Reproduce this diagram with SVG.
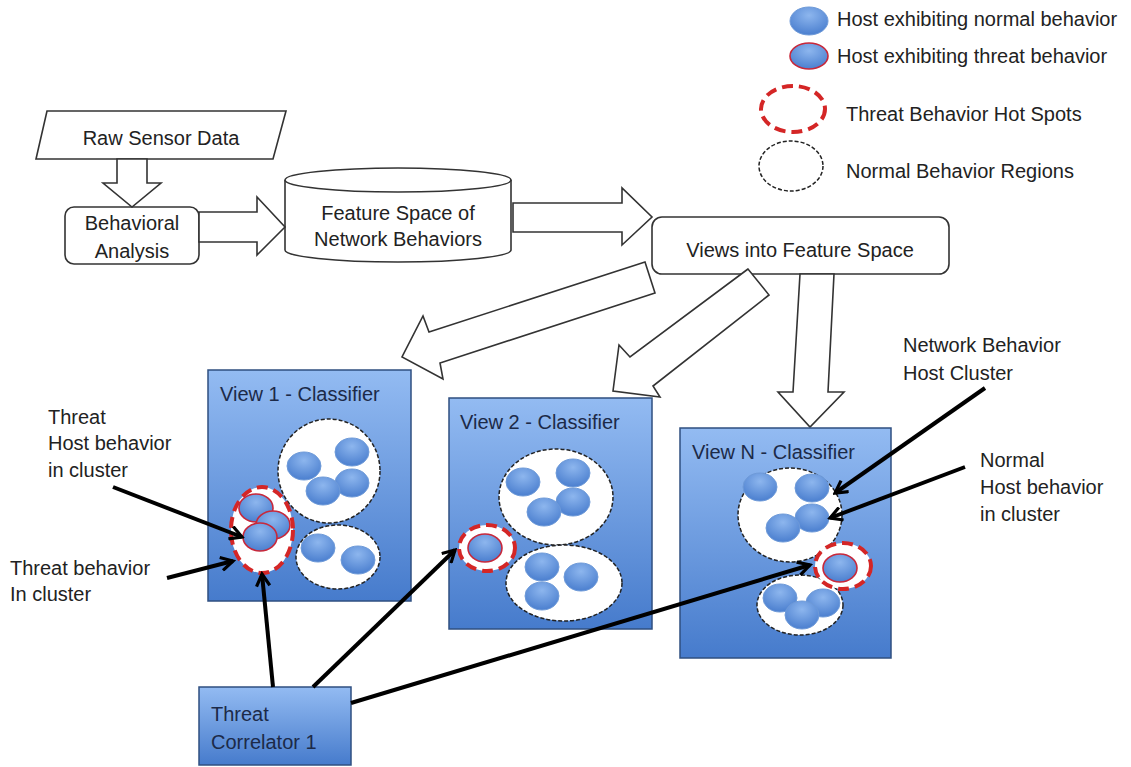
<svg xmlns="http://www.w3.org/2000/svg" width="1131" height="767" viewBox="0 0 1131 767">
  <style>
    text { font-family: "Liberation Sans", Arial, sans-serif; font-size: 20px; fill: #222; }
    .title { fill: #1c2a48; }
    .shape { fill: #fff; stroke: #333; stroke-width: 1.6; }
    .panel { fill: url(#panelGrad); stroke: #2f4f80; stroke-width: 1.5; }
    .region { fill: #fff; stroke: #222; stroke-width: 1.5; stroke-dasharray: 4 2; }
    .hot { fill: #fff; stroke: #d42626; stroke-width: 4; stroke-dasharray: 11 6; }
    .host { fill: url(#hostGrad); stroke: #6e9ad8; stroke-width: 1; }
    .threat { fill: url(#hostGrad); stroke: #c8283a; stroke-width: 1.6; }
    .link { stroke: #000; stroke-width: 4; fill: none; marker-end: url(#chev); }
  </style>
  <defs>
    <linearGradient id="panelGrad" x1="0" y1="0" x2="0" y2="1">
      <stop offset="0" stop-color="#93bbf2"/>
      <stop offset="1" stop-color="#467bcc"/>
    </linearGradient>
    <radialGradient id="hostGrad" cx="0.5" cy="0.3" r="0.7">
      <stop offset="0" stop-color="#8db6ee"/>
      <stop offset="1" stop-color="#4b7fcf"/>
    </radialGradient>
    <marker id="chev" viewBox="0 0 12 12" refX="10" refY="6" markerWidth="16" markerHeight="16" markerUnits="userSpaceOnUse" orient="auto">
      <path d="M1,1 L10,6 L1,11" fill="none" stroke="#000" stroke-width="2.4"/>
    </marker>
  </defs>
  <rect width="1131" height="767" fill="#fff"/>

  <!-- legend -->
  <g id="legend">
    <ellipse class="host" cx="809" cy="21" rx="19" ry="14"/>
    <text x="837" y="26">Host exhibiting normal behavior</text>
    <ellipse class="threat" cx="809" cy="56" rx="19" ry="13"/>
    <text x="837" y="63">Host exhibiting threat behavior</text>
    <ellipse class="hot" cx="793" cy="109" rx="32" ry="23"/>
    <text x="846" y="121">Threat Behavior Hot Spots</text>
    <ellipse class="region" cx="791" cy="166" rx="32" ry="25"/>
    <text x="846" y="178">Normal Behavior Regions</text>
  </g>

  <!-- flow shapes -->
  <g id="raw-sensor-data">
    <polygon class="shape" points="47,111 286,111 273,159 36,159"/>
    <text x="161" y="145" text-anchor="middle">Raw Sensor Data</text>
  </g>
  <g id="behavioral-analysis">
    <rect class="shape" x="65" y="207" width="134" height="57" rx="9"/>
    <text x="132" y="230" text-anchor="middle">Behavioral</text>
    <text x="132" y="258" text-anchor="middle">Analysis</text>
  </g>
  <g id="feature-space">
    <path class="shape" d="M285,180 L285,250 A113,12 0 0 0 511,250 L511,180"/>
    <ellipse class="shape" cx="398" cy="180" rx="113" ry="12"/>
    <text x="398" y="220" text-anchor="middle">Feature Space of</text>
    <text x="398" y="246" text-anchor="middle">Network Behaviors</text>
  </g>
  <g id="views">
    <rect class="shape" x="652" y="217" width="297" height="57" rx="10"/>
    <text x="800" y="257" text-anchor="middle">Views into Feature Space</text>
  </g>

  <!-- block arrows between stages -->
  <g id="block-arrows">
    <polygon class="shape" points="117,159 147,159 147,183 161,183 132,207 103,183 117,183"/>
    <polygon class="shape" points="199,212 257,212 257,197 285,227 257,255 257,242 199,242"/>
    <polygon class="shape" points="513,203 622,203 622,188 652,217 622,245 622,232 513,232"/>
    <polygon class="shape" points="645,262 429,332 423,316 402,357 443,379 440,363 655,293"/>
    <polygon class="shape" points="748,269 630,357 619,345 613,391 660,397 653,386 769,295"/>
    <polygon class="shape" points="800,274 793,392 778,392 810,427 844,392 828,392 834,274"/>
  </g>

  <!-- classifier views -->
  <g id="view-1">
    <rect class="panel" x="208" y="370" width="203" height="231"/>
    <text class="title" x="220" y="401">View 1 - Classifier</text>
    <ellipse class="region" cx="329" cy="471" rx="51" ry="52"/>
    <ellipse class="host" cx="304" cy="466" rx="17" ry="14"/>
    <ellipse class="host" cx="352" cy="452" rx="17" ry="14"/>
    <ellipse class="host" cx="352" cy="483" rx="17" ry="14"/>
    <ellipse class="host" cx="323" cy="491" rx="17" ry="14"/>
    <ellipse class="region" cx="338" cy="557" rx="42" ry="32"/>
    <ellipse class="host" cx="318" cy="548" rx="17" ry="14"/>
    <ellipse class="host" cx="358" cy="560" rx="17" ry="14"/>
    <ellipse class="hot" cx="262" cy="530" rx="31" ry="43"/>
    <ellipse class="threat" cx="256" cy="508" rx="17" ry="14"/>
    <ellipse class="threat" cx="273" cy="525" rx="17" ry="14"/>
    <ellipse class="threat" cx="260" cy="537" rx="17" ry="14"/>
  </g>
  <g id="view-2">
    <rect class="panel" x="449" y="398" width="203" height="231"/>
    <text class="title" x="460" y="429">View 2 - Classifier</text>
    <ellipse class="region" cx="556" cy="497" rx="57" ry="48"/>
    <ellipse class="host" cx="523" cy="482" rx="17" ry="14"/>
    <ellipse class="host" cx="573" cy="473" rx="17" ry="14"/>
    <ellipse class="host" cx="573" cy="502" rx="17" ry="14"/>
    <ellipse class="host" cx="544" cy="512" rx="17" ry="14"/>
    <ellipse class="region" cx="564" cy="583" rx="58" ry="38"/>
    <ellipse class="host" cx="542" cy="567" rx="17" ry="14"/>
    <ellipse class="host" cx="581" cy="577" rx="17" ry="14"/>
    <ellipse class="host" cx="542" cy="596" rx="17" ry="14"/>
    <ellipse class="hot" cx="487" cy="548" rx="28" ry="23"/>
    <ellipse class="threat" cx="485" cy="548" rx="17" ry="14"/>
  </g>
  <g id="view-n">
    <rect class="panel" x="680" y="428" width="211" height="230"/>
    <text class="title" x="692" y="459">View N - Classifier</text>
    <ellipse class="region" cx="790" cy="515" rx="52" ry="47"/>
    <ellipse class="host" cx="760" cy="487" rx="17" ry="14"/>
    <ellipse class="host" cx="812" cy="488" rx="17" ry="14"/>
    <ellipse class="host" cx="812" cy="518" rx="17" ry="14"/>
    <ellipse class="host" cx="783" cy="528" rx="17" ry="14"/>
    <ellipse class="region" cx="800" cy="605" rx="43" ry="30"/>
    <ellipse class="host" cx="780" cy="598" rx="17" ry="14"/>
    <ellipse class="host" cx="823" cy="603" rx="17" ry="14"/>
    <ellipse class="host" cx="802" cy="615" rx="17" ry="14"/>
    <ellipse class="hot" cx="843" cy="566" rx="28" ry="23"/>
    <ellipse class="threat" cx="840" cy="568" rx="17" ry="14"/>
  </g>

  <g id="threat-correlator">
    <rect class="panel" x="199" y="687" width="152" height="78"/>
    <text class="title" x="211" y="721">Threat</text>
    <text class="title" x="211" y="749">Correlator 1</text>
  </g>

  <!-- annotation labels -->
  <g id="labels">
    <text x="48" y="424">Threat</text>
    <text x="48" y="450">Host behavior</text>
    <text x="48" y="477">in cluster</text>
    <text x="10" y="575">Threat behavior</text>
    <text x="10" y="601">In cluster</text>
    <text x="903" y="352">Network Behavior</text>
    <text x="903" y="380">Host Cluster</text>
    <text x="980" y="467">Normal</text>
    <text x="980" y="494">Host behavior</text>
    <text x="980" y="521">in cluster</text>
  </g>

  <!-- connectors -->
  <g id="connectors">
    <line class="link" x1="113" y1="487" x2="242" y2="537"/>
    <line class="link" x1="167" y1="578" x2="233" y2="561"/>
    <line class="link" x1="273" y1="687" x2="262" y2="574"/>
    <line class="link" x1="313" y1="687" x2="455" y2="550"/>
    <line class="link" x1="351" y1="703" x2="810" y2="565"/>
    <line class="link" x1="985" y1="388" x2="835" y2="493"/>
    <line class="link" x1="965" y1="467" x2="830" y2="518"/>
  </g>
</svg>
